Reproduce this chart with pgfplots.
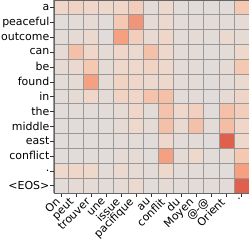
\documentclass[border=0pt]{standalone}
\usepackage{fontspec}
\setmainfont{DejaVu Sans}
\usepackage{graphicx}
\usepackage{pgfplots}
\pgfplotsset{compat=1.18}
\newcommand\rl[1]{\rotatebox{45}{#1}}
\begin{document}
\begin{tikzpicture}
\begin{axis}[name=ax,
  scale only axis, width=195bp, height=193bp,
  xmin=-0.5, xmax=12.5, ymin=-0.5, ymax=12.5, y dir=reverse,
  axis line style={black!60},
  colormap={attn}{rgb255(0cm)=(222,221,220) rgb255(2cm)=(238,216,204) rgb255(5cm)=(245,200,178) rgb255(10cm)=(245,160,128) rgb255(16cm)=(224,96,78)},
  point meta min=0, point meta max=0.8,
  xtick={0,...,12}, ytick={0,...,12},
  xticklabels={\rl{On},\rl{peut},\rl{trouver},\rl{une},\rl{issue},\rl{pacifique},\rl{au},\rl{conflit},\rl{du},\rl{Moyen},\rl{@-@},\rl{Orient},\rl{.}},
  yticklabels={a,peaceful,outcome,can,be,found,in,the,middle,east,conflict,.,<EOS>},
  x tick label style={anchor=north east, inner sep=0.5pt},
  y tick label style={inner sep=1pt},
  tick label style={font=\fontsize{11}{13}\selectfont},
  tick align=outside, tick pos=left, major tick length=3.5bp,
  major tick style={black!80},
  minor xtick={-0.5,0.5,...,12.5}, minor ytick={-0.5,0.5,...,12.5},
  minor tick length=0pt,
  minor grid style={black!40, line width=1bp},
  xminorgrids, yminorgrids,
  axis on top,
]
\addplot[matrix plot*, point meta=explicit, mesh/cols=13] table[meta=c] {
x y c
0 0 0.12
1 0 0.15
2 0 0.12
3 0 0.10
4 0 0.12
5 0 0.20
6 0 0.02
7 0 0.10
8 0 0.02
9 0 0.02
10 0 0.02
11 0 0.02
12 0 0.25
0 1 0.02
1 1 0.03
2 1 0.05
3 1 0.02
4 1 0.25
5 1 0.55
6 1 0.05
7 1 0.08
8 1 0.03
9 1 0.03
10 1 0.03
11 1 0.03
12 1 0.05
0 2 0.03
1 2 0.05
2 2 0.08
3 2 0.02
4 2 0.50
5 2 0.20
6 2 0.06
7 2 0.12
8 2 0.03
9 2 0.05
10 2 0.03
11 2 0.08
12 2 0.05
0 3 0.05
1 3 0.30
2 3 0.12
3 3 0.05
4 3 0.12
5 3 0.08
6 3 0.30
7 3 0.10
8 3 0.03
9 3 0.03
10 3 0.02
11 3 0.03
12 3 0.10
0 4 0.05
1 4 0.08
2 4 0.25
3 4 0.05
4 4 0.10
5 4 0.10
6 4 0.15
7 4 0.10
8 4 0.03
9 4 0.03
10 4 0.02
11 4 0.05
12 4 0.25
0 5 0.03
1 5 0.05
2 5 0.50
3 5 0.05
4 5 0.15
5 5 0.12
6 5 0.08
7 5 0.10
8 5 0.03
9 5 0.04
10 5 0.02
11 5 0.03
12 5 0.08
0 6 0.03
1 6 0.05
2 6 0.12
3 6 0.04
4 6 0.15
5 6 0.12
6 6 0.28
7 6 0.30
8 6 0.03
9 6 0.03
10 6 0.02
11 6 0.05
12 6 0.13
0 7 0.02
1 7 0.03
2 7 0.03
3 7 0.03
4 7 0.05
5 7 0.12
6 7 0.03
7 7 0.28
8 7 0.10
9 7 0.18
10 7 0.02
11 7 0.30
12 7 0.20
0 8 0.02
1 8 0.02
2 8 0.02
3 8 0.02
4 8 0.05
5 8 0.10
6 8 0.04
7 8 0.30
8 8 0.07
9 8 0.30
10 8 0.03
11 8 0.32
12 8 0.12
0 9 0.02
1 9 0.02
2 9 0.02
3 9 0.02
4 9 0.03
5 9 0.03
6 9 0.02
7 9 0.10
8 9 0.03
9 9 0.03
10 9 0.02
11 9 0.80
12 9 0.10
0 10 0.02
1 10 0.02
2 10 0.02
3 10 0.02
4 10 0.05
5 10 0.05
6 10 0.02
7 10 0.50
8 10 0.05
9 10 0.10
10 10 0.02
11 10 0.05
12 10 0.25
0 11 0.10
1 11 0.12
2 11 0.10
3 11 0.03
4 11 0.08
5 11 0.05
6 11 0.03
7 11 0.10
8 11 0.03
9 11 0.03
10 11 0.02
11 11 0.02
12 11 0.50
0 12 0.03
1 12 0.05
2 12 0.05
3 12 0.03
4 12 0.05
5 12 0.08
6 12 0.02
7 12 0.05
8 12 0.03
9 12 0.03
10 12 0.03
11 12 0.03
12 12 0.80
};
\end{axis}
\pgfresetboundingbox
\path (ax.south west) ++(-54bp,-50bp) coordinate (bl);
\useasboundingbox (bl) rectangle (ax.north east);
\end{tikzpicture}
\end{document}
